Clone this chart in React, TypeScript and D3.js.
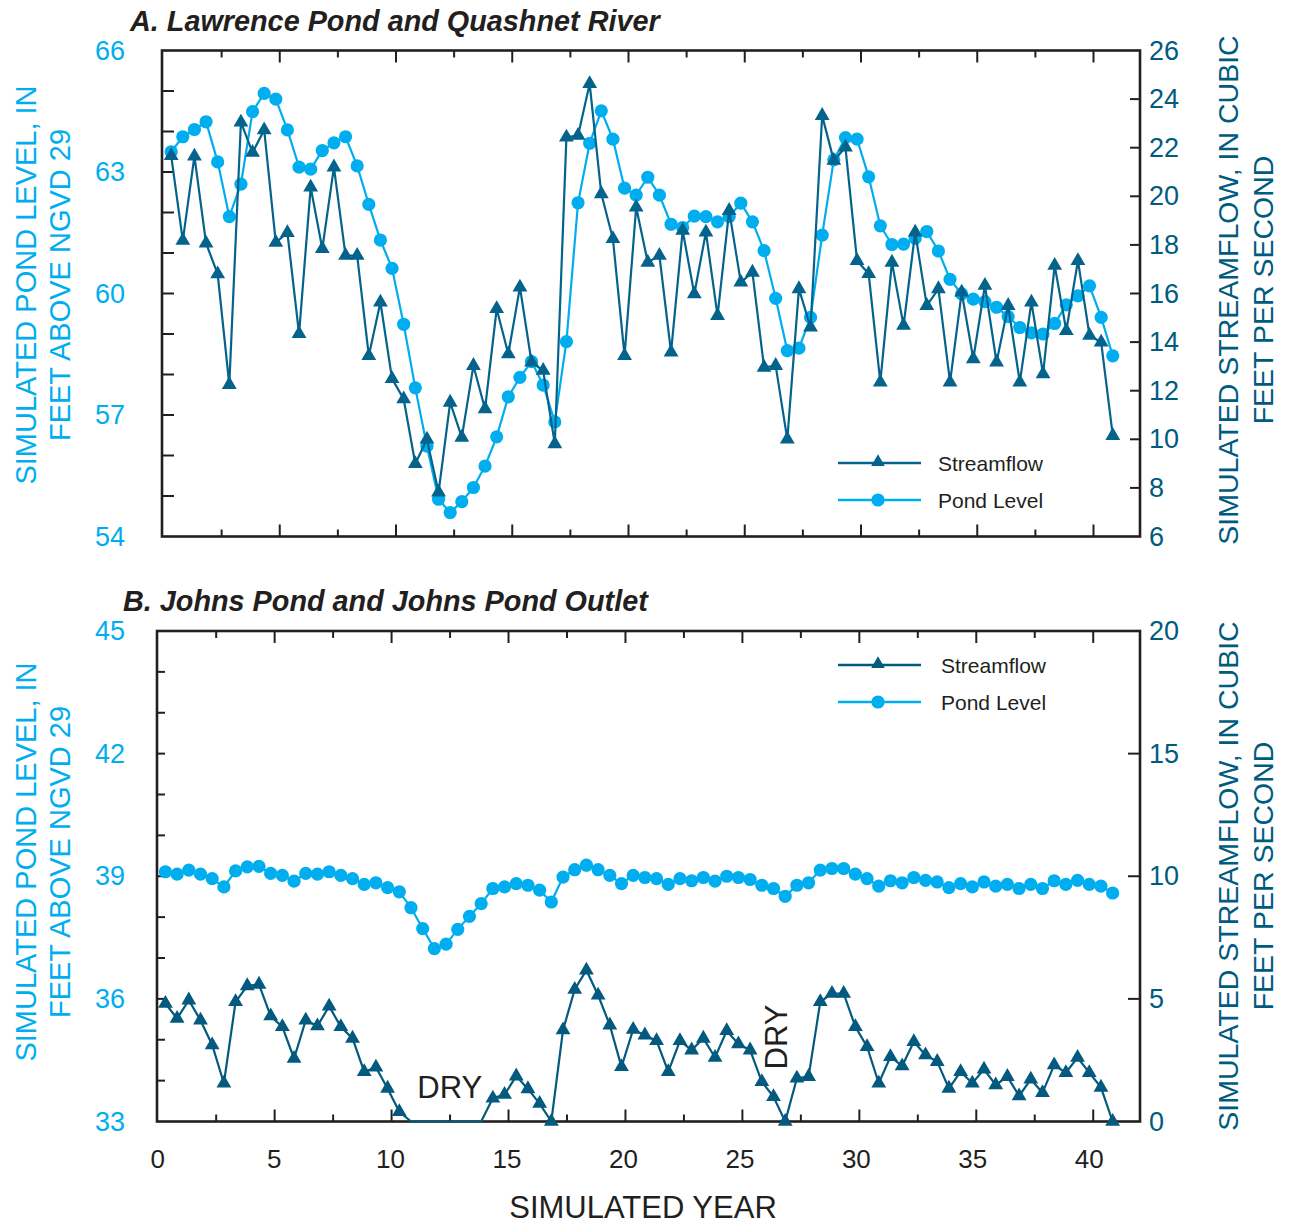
import React from "react";
import * as d3 from "d3";

// ---------- DATA ----------
// 82 half-year simulation steps
const STEP_COUNT = 82;
const simYears: number[] = d3.range(STEP_COUNT).map((i) => 0.33 + 0.5 * i);

const lawrenceStreamflow: number[] = [
  21.67, 18.18, 21.65, 18.07, 16.8, 12.25, 23.05, 21.8, 22.73, 18.1,
  18.5, 14.34, 20.37, 17.84, 21.2, 17.56, 17.56, 13.44, 15.64, 12.49,
  11.66, 8.99, 10.0, 7.82, 11.52, 10.08, 13.03, 11.25, 15.37, 13.51,
  16.26, 13.17, 12.83, 9.81, 22.43, 22.5, 24.63, 20.1, 18.25, 13.44,
  19.55, 17.28, 17.56, 13.58, 18.59, 15.98, 18.52, 15.09, 19.41, 16.46,
  16.87, 12.96, 13.03, 10.0, 16.19, 14.61, 23.32, 21.47, 22.02, 17.35,
  16.81, 12.35, 17.28, 14.68, 18.52, 15.5, 16.19, 12.35, 16.05, 13.31,
  16.33, 13.17, 15.5, 12.35, 15.64, 12.69, 17.15, 14.47, 17.35, 14.27,
  13.99, 10.15,
];

const lawrencePond: number[] = [
  63.5, 63.87, 64.05, 64.24, 63.25, 61.9, 62.7, 64.49, 64.94, 64.8,
  64.04, 63.12, 63.07, 63.53, 63.72, 63.87, 63.15, 62.2, 61.32, 60.62,
  59.24, 57.67, 56.23, 54.92, 54.59, 54.86, 55.21, 55.74, 56.46, 57.45,
  57.93, 58.32, 57.74, 56.83, 58.81, 62.24, 63.71, 64.51, 63.81, 62.6,
  62.43, 62.87, 62.43, 61.71, 61.63, 61.91, 61.9, 61.77, 61.9, 62.23,
  61.77, 61.06, 59.88, 58.59, 58.65, 59.41, 61.44, 63.3, 63.85, 63.81,
  62.88, 61.67, 61.21, 61.22, 61.36, 61.53, 61.05, 60.35, 59.99, 59.86,
  59.8, 59.66, 59.43, 59.16, 59.03, 59.0, 59.26, 59.72, 59.94, 60.19,
  59.41, 58.46,
];

// null = DRY (zero flow, no marker)
const johnsStreamflow: (number | null)[] = [
  4.81, 4.2, 4.95, 4.13, 3.12, 1.56, 4.88, 5.53, 5.59, 4.3,
  3.86, 2.57, 4.13, 3.89, 4.7, 3.86, 3.39, 2.03, 2.21, 1.35,
  0.4, null, null, null, null, null, null, null, 0.95, 1.1,
  1.85, 1.33, 0.73, 0, 3.73, 5.38, 6.17, 5.15, 3.93, 2.23,
  3.75, 3.52, 3.29, 2.03, 3.29, 2.91, 3.39, 2.61, 3.7, 3.16,
  2.91, 1.62, 1.01, 0, 1.76, 1.83, 4.88, 5.22, 5.22, 3.86,
  3.05, 1.56, 2.64, 2.26, 3.25, 2.71, 2.44, 1.35, 2.03, 1.56,
  2.13, 1.49, 1.83, 1.04, 1.72, 1.17, 2.3, 1.99, 2.61, 1.99,
  1.39, 0,
];

const johnsPond: number[] = [
  39.11, 39.05, 39.15, 39.05, 38.94, 38.74, 39.13, 39.23, 39.24, 39.07,
  39.02, 38.88, 39.07, 39.05, 39.11, 39.02, 38.94, 38.8, 38.84, 38.72,
  38.62, 38.23, 37.72, 37.23, 37.34, 37.7, 38.02, 38.33, 38.7, 38.74,
  38.82, 38.78, 38.66, 38.37, 38.98, 39.16, 39.27, 39.16, 39.02, 38.82,
  39.02, 38.97, 38.94, 38.8, 38.94, 38.89, 38.97, 38.88, 39.0, 38.97,
  38.92, 38.78, 38.7, 38.51, 38.78, 38.84, 39.15, 39.19, 39.19, 39.05,
  38.94, 38.76, 38.89, 38.84, 38.97, 38.9, 38.86, 38.72, 38.82, 38.74,
  38.86, 38.76, 38.8, 38.7, 38.8, 38.7, 38.89, 38.8, 38.9, 38.8,
  38.76, 38.59,
];

const xDomain = [0, 42];
const xMinorTicks = d3.range(2.5, 41, 2.5);
const xLabelTicks = [0, 5, 10, 15, 20, 25, 30, 35, 40];

const lawrenceLeftDomain = [54, 66];
const lawrenceLeftLabels = [54, 57, 60, 63, 66];
const lawrenceLeftTicks = d3.range(55, 66, 1);
const lawrenceRightDomain = [6, 26];
const lawrenceRightLabels = [6, 8, 10, 12, 14, 16, 18, 20, 22, 24, 26];

const johnsLeftDomain = [33, 45];
const johnsLeftLabels = [33, 36, 39, 42, 45];
const johnsLeftTicks = d3.range(34, 45, 1);
const johnsRightDomain = [0, 20];
const johnsRightLabels = [0, 5, 10, 15, 20];

const legendLabels = ["Streamflow", "Pond Level"];

// ---------- STYLE ----------
const FONT = "'Liberation Sans', Arial, Helvetica, sans-serif";
const INK = "#231f20";
const POND = "#00aeef";
const RIGHT_AXIS = "#005b80";

type PanelProps = {
  left: number;
  xStart: number;
  right: number;
  top: number;
  bottom: number;
  title: string;
  titleX: number;
  titleY: number;
  leftDomain: number[];
  leftLabels: number[];
  leftTicks: number[];
  leftTickLen: number;
  rightDomain: number[];
  rightLabels: number[];
  rightTickLen: number;
  streamflow: (number | null)[];
  pond: number[];
  sfColor: string;
  legendY: number;
  legendTextX: number;
  leftTitleY: number;
  rightTitleY: number;
  showXLabels: boolean;
  dryLabels?: boolean;
};

function Panel(p: PanelProps) {
  const x = d3.scaleLinear().domain(xDomain).range([p.xStart, p.right]);
  const yL = d3.scaleLinear().domain(p.leftDomain).range([p.bottom, p.top]);
  const yR = d3.scaleLinear().domain(p.rightDomain).range([p.bottom, p.top]);
  // label positions in the reference sit very slightly left of the ticks
  const xLab = d3.scaleLinear().domain([0, 40]).range([p.xStart, x(40) - 4]);

  const pondPath = d3
    .line<number>()
    .x((_, i) => x(simYears[i]))
    .y((d) => yL(d))(p.pond) as string;
  const sfPath = d3
    .line<number | null>()
    .x((_, i) => x(simYears[i]))
    .y((d) => yR(d ?? 0))(p.streamflow) as string;

  const tri = d3.symbol(d3.symbolTriangle, 95)() as string;
  const triLegend = d3.symbol(d3.symbolTriangle, 80)() as string;

  const majorLen = 12;
  const minorLen = 7;

  return (
    <g>
      <text
        x={p.titleX}
        y={p.titleY}
        fontFamily={FONT}
        fontWeight="bold"
        fontStyle="italic"
        fontSize={28.8}
        fill={INK}
      >
        {p.title}
      </text>

      {/* x ticks top & bottom */}
      {xMinorTicks.map((t) => {
        const len = t % 5 === 0 ? majorLen : minorLen;
        return (
          <g key={"xt" + t} stroke={INK} strokeWidth={2}>
            <line x1={x(t)} x2={x(t)} y1={p.bottom} y2={p.bottom - len} />
            <line x1={x(t)} x2={x(t)} y1={p.top} y2={p.top + len} />
          </g>
        );
      })}
      {/* left ticks */}
      {p.leftTicks.map((t) => (
        <line
          key={"lt" + t}
          x1={p.left}
          x2={p.left + p.leftTickLen}
          y1={yL(t)}
          y2={yL(t)}
          stroke={INK}
          strokeWidth={2}
        />
      ))}
      {/* right ticks */}
      {p.rightLabels
        .filter((t) => t !== p.rightDomain[0] && t !== p.rightDomain[1])
        .map((t) => (
          <line
            key={"rt" + t}
            x1={p.right}
            x2={p.right - p.rightTickLen}
            y1={yR(t)}
            y2={yR(t)}
            stroke={INK}
            strokeWidth={2}
          />
        ))}

      {/* frame */}
      <rect
        x={p.left}
        y={p.top}
        width={p.right - p.left}
        height={p.bottom - p.top}
        fill="none"
        stroke={INK}
        strokeWidth={2.6}
      />

      {/* left labels */}
      {p.leftLabels.map((t) => (
        <text
          key={"ll" + t}
          x={125}
          y={yL(t)}
          textAnchor="end"
          dominantBaseline="central"
          fontFamily={FONT}
          fontSize={27}
          fill={POND}
        >
          {t}
        </text>
      ))}
      {/* right labels */}
      {p.rightLabels.map((t) => (
        <text
          key={"rl" + t}
          x={p.right + 9}
          y={yR(t)}
          textAnchor="start"
          dominantBaseline="central"
          fontFamily={FONT}
          fontSize={27}
          fill={RIGHT_AXIS}
        >
          {t}
        </text>
      ))}

      {/* axis titles */}
      <g fontFamily={FONT} fontSize={29} fill={POND} textAnchor="middle">
        <text transform={`translate(36,${p.leftTitleY}) rotate(-90)`}>
          SIMULATED POND LEVEL, IN
        </text>
        <text transform={`translate(70,${p.leftTitleY}) rotate(-90)`}>
          FEET ABOVE NGVD 29
        </text>
      </g>
      <g fontFamily={FONT} fontSize={28.5} fill={RIGHT_AXIS} textAnchor="middle">
        <text transform={`translate(1238,${p.rightTitleY}) rotate(-90)`}>
          SIMULATED STREAMFLOW, IN CUBIC
        </text>
        <text transform={`translate(1273,${p.rightTitleY}) rotate(-90)`}>
          FEET PER SECOND
        </text>
      </g>

      {/* pond level */}
      <path d={pondPath} fill="none" stroke={POND} strokeWidth={2.2} />
      {p.pond.map((d, i) => (
        <circle key={"pc" + i} cx={x(simYears[i])} cy={yL(d)} r={6.6} fill={POND} />
      ))}

      {/* streamflow */}
      <path d={sfPath} fill="none" stroke={p.sfColor} strokeWidth={2.2} />
      {p.streamflow.map((d, i) =>
        d === null ? null : (
          <path
            key={"st" + i}
            d={tri}
            transform={`translate(${x(simYears[i])},${yR(d)})`}
            fill={p.sfColor}
          />
        )
      )}

      {/* legend */}
      <g>
        <line x1={838} x2={921} y1={p.legendY} y2={p.legendY} stroke={p.sfColor} strokeWidth={2.4} />
        <path d={triLegend} transform={`translate(878,${p.legendY - 1})`} fill={p.sfColor} />
        <text
          x={p.legendTextX}
          y={p.legendY}
          dominantBaseline="central"
          fontFamily={FONT}
          fontSize={21}
          fill={INK}
        >
          {legendLabels[0]}
        </text>
        <line x1={838} x2={921} y1={p.legendY + 37} y2={p.legendY + 37} stroke={POND} strokeWidth={2.4} />
        <circle cx={878} cy={p.legendY + 37} r={6.6} fill={POND} />
        <text
          x={p.legendTextX}
          y={p.legendY + 37}
          dominantBaseline="central"
          fontFamily={FONT}
          fontSize={21}
          fill={INK}
        >
          {legendLabels[1]}
        </text>
      </g>

      {p.showXLabels &&
        xLabelTicks.map((t) => (
          <text
            key={"xl" + t}
            x={xLab(t)}
            y={1168}
            textAnchor="middle"
            fontFamily={FONT}
            fontSize={26}
            fill={INK}
          >
            {t}
          </text>
        ))}

      {p.dryLabels && (
        <g fontFamily={FONT} fontSize={31} fill={INK}>
          <text x={x(11.1)} y={1098}>
            DRY
          </text>
          <text transform={`translate(${x(26.9)},1037) rotate(-90)`} textAnchor="middle">
            DRY
          </text>
        </g>
      )}
    </g>
  );
}

export default function App() {
  return (
    <svg
      width={1289}
      height={1226}
      style={{ position: "absolute", left: 0, top: 0, background: "#fff" }}
    >
      <rect width={1289} height={1226} fill="#fff" />
      <Panel
        left={162}
        xStart={163.5}
        right={1140}
        top={50.5}
        bottom={536.5}
        title="A. Lawrence Pond and Quashnet River"
        titleX={130}
        titleY={31}
        leftDomain={lawrenceLeftDomain}
        leftLabels={lawrenceLeftLabels}
        leftTicks={lawrenceLeftTicks}
        leftTickLen={12}
        rightDomain={lawrenceRightDomain}
        rightLabels={lawrenceRightLabels}
        rightTickLen={10}
        streamflow={lawrenceStreamflow}
        pond={lawrencePond}
        sfColor="#04638c"
        legendY={463}
        legendTextX={938}
        leftTitleY={285}
        rightTitleY={290}
        showXLabels={false}
      />
      <Panel
        left={157}
        xStart={157.7}
        right={1140}
        top={631}
        bottom={1121.5}
        title="B. Johns Pond and Johns Pond Outlet"
        titleX={123}
        titleY={611}
        leftDomain={johnsLeftDomain}
        leftLabels={johnsLeftLabels}
        leftTicks={johnsLeftTicks}
        leftTickLen={8}
        rightDomain={johnsRightDomain}
        rightLabels={johnsRightLabels}
        rightTickLen={12}
        streamflow={johnsStreamflow}
        pond={johnsPond}
        sfColor="#035a7e"
        legendY={665}
        legendTextX={941}
        leftTitleY={862}
        rightTitleY={876}
        showXLabels={true}
        dryLabels={true}
      />
      <text
        x={643}
        y={1218}
        textAnchor="middle"
        fontFamily={FONT}
        fontSize={31}
        fill={INK}
      >
        SIMULATED YEAR
      </text>
    </svg>
  );
}
